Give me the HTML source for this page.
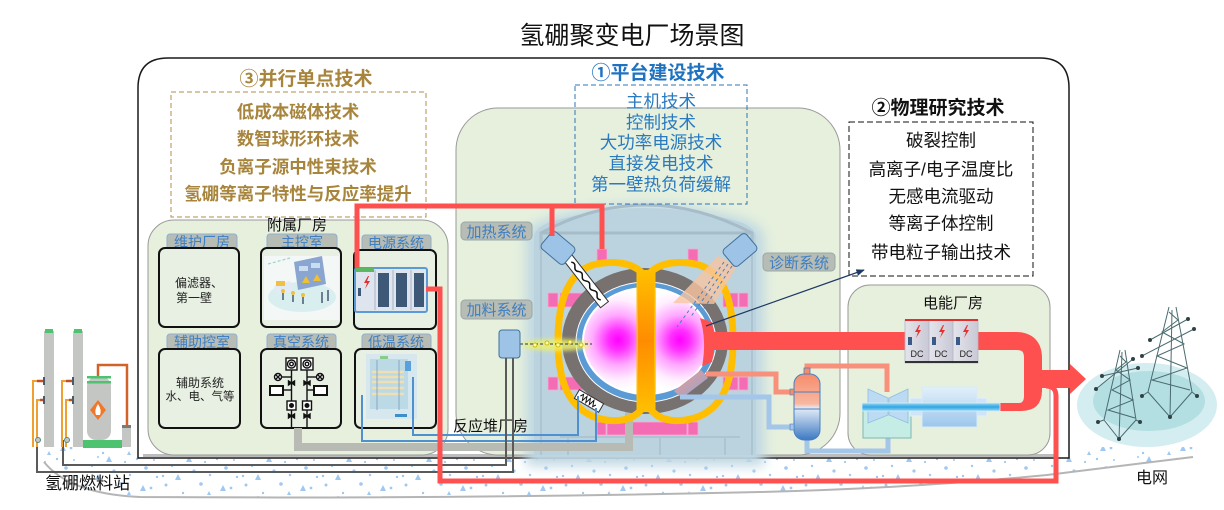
<!DOCTYPE html>
<html><head><meta charset="utf-8">
<style>
html,body{margin:0;padding:0;background:#fff;}
svg{display:block;}
text{font-family:"Liberation Sans","Noto Sans CJK SC",sans-serif;}
</style></head><body>
<svg width="1224" height="510" viewBox="0 0 1224 510" xmlns="http://www.w3.org/2000/svg">
<defs>
 <pattern id="dots" width="80" height="40" patternUnits="userSpaceOnUse">
  <rect width="80" height="40" fill="#fff"/>
  <g fill="#9fc9f2">
   <circle cx="6" cy="5" r="1.5"/><circle cx="23" cy="13" r="1.2"/><circle cx="41" cy="4" r="1.8"/><circle cx="57" cy="19" r="1.2"/><circle cx="71" cy="8" r="1.4"/><circle cx="12" cy="26" r="1.2"/><circle cx="34" cy="31" r="1.6"/><circle cx="50" cy="35" r="1.2"/><circle cx="66" cy="28" r="1.8"/><circle cx="77" cy="37" r="1.2"/><circle cx="3" cy="36" r="1.2"/><circle cx="45" cy="22" r="1.1"/><circle cx="18" cy="17" r="1"/><circle cx="74" cy="20" r="1"/>
   <polygon points="26,22 32,22 29,16"/><polygon points="60,11 66,11 63,5"/><polygon points="15,40 21,40 18,34"/><polygon points="47,15 51,15 49,11"/>
  </g>
 </pattern>
 <filter id="glow" x="-20%" y="-20%" width="140%" height="140%"><feGaussianBlur stdDeviation="6"/></filter>
 <filter id="soft" x="-30%" y="-100%" width="160%" height="300%"><feGaussianBlur stdDeviation="2"/></filter>
 <radialGradient id="plL" gradientUnits="userSpaceOnUse" cx="618" cy="340" r="50">
  <stop offset="0" stop-color="#ff00ff"/><stop offset="0.2" stop-color="#ff30ff"/><stop offset="0.5" stop-color="#ffa8ff"/><stop offset="0.8" stop-color="#ffeeff"/><stop offset="1" stop-color="#ffffff"/>
 </radialGradient>
 <radialGradient id="plR" gradientUnits="userSpaceOnUse" cx="680" cy="340" r="50">
  <stop offset="0" stop-color="#ff00ff"/><stop offset="0.2" stop-color="#ff30ff"/><stop offset="0.5" stop-color="#ffa8ff"/><stop offset="0.8" stop-color="#ffeeff"/><stop offset="1" stop-color="#ffffff"/>
 </radialGradient>
 <clipPath id="cL"><rect x="570" y="280" width="70" height="125"/></clipPath>
 <clipPath id="cR"><rect x="655" y="280" width="70" height="125"/></clipPath>
 <linearGradient id="cb" x1="0" y1="0" x2="0" y2="1"><stop offset="0" stop-color="#ffc000"/><stop offset="0.5" stop-color="#ff8c00"/><stop offset="1" stop-color="#ffc000"/></linearGradient>
 <linearGradient id="ves" x1="0" y1="0" x2="0" y2="1"><stop offset="0" stop-color="#f68c6c"/><stop offset="0.45" stop-color="#f9b7a0"/><stop offset="0.52" stop-color="#e3ecf8"/><stop offset="1" stop-color="#3c78c2"/></linearGradient>
 <linearGradient id="port" x1="0" y1="0" x2="1" y2="1"><stop offset="0" stop-color="#f59a8c"/><stop offset="1" stop-color="#8aa6d8"/></linearGradient>
 <linearGradient id="shaft" x1="0" y1="0" x2="0" y2="1"><stop offset="0" stop-color="#9ad6f4"/><stop offset="0.5" stop-color="#2ea6e2"/><stop offset="1" stop-color="#9ad6f4"/></linearGradient>
 <linearGradient id="gen" x1="0" y1="0" x2="0" y2="1"><stop offset="0" stop-color="#e3f0fa"/><stop offset="1" stop-color="#9cc6ec"/></linearGradient>
 <linearGradient id="dc" x1="0" y1="0" x2="1" y2="0"><stop offset="0" stop-color="#e4e4ec"/><stop offset="1" stop-color="#c9c9d6"/></linearGradient>
 <marker id="arr" viewBox="0 0 10 10" refX="9" refY="5" markerWidth="7" markerHeight="7" orient="auto"><path d="M0,1 L10,5 L0,9 Z" fill="#1f3864"/></marker>
</defs>

<!-- ground -->
<path d="M40,447 H1195 V455 L1193,457 Q1120,466 1047,475 Q900,489 760,492 Q450,499 140,497 Q70,494 44,462 Q40,455 40,447 Z" fill="url(#dots)"/>
<path d="M44,462 Q70,494 140,497 Q450,499 760,492 Q900,489 1047,475 Q1120,466 1193,457" fill="none" stroke="#b5b5b5" stroke-width="2"/>

<!-- title -->
<text x="632" y="44" font-size="25" text-anchor="middle" fill="#111">氢硼聚变电厂场景图</text>

<!-- outer frame -->
<path d="M138,458 V88 Q138,58 168,58 H1040 Q1069,58 1069,88 V458 Z" fill="#fff" stroke="#1a1a1a" stroke-width="1.5"/>
<rect x="143" y="454" width="912" height="3" fill="#bdbdbd"/>

<!-- buildings -->
<rect x="148" y="220" width="300" height="235" rx="26" fill="#e6f0dd" stroke="#9a9a9a" stroke-width="1"/>
<rect x="456" y="108" width="384" height="347" rx="42" fill="#e6f0dd" stroke="#9a9a9a" stroke-width="1"/>
<rect x="848" y="285" width="202" height="170" rx="22" fill="#e6f0dd" stroke="#9a9a9a" stroke-width="1"/>

<!-- ③ -->
<text x="306" y="85" font-size="19" font-weight="bold" text-anchor="middle" fill="#a8853c">③并行单点技术</text>
<rect x="171" y="92" width="255" height="125" fill="none" stroke="#b08d4a" stroke-width="1" stroke-dasharray="5,3"/>
<g font-size="17.5" font-weight="bold" text-anchor="middle" fill="#a8853c">
 <text x="298" y="118">低成本磁体技术</text>
 <text x="298" y="145">数智球形环技术</text>
 <text x="298" y="173">负离子源中性束技术</text>
 <text x="298" y="200">氢硼等离子特性与反应率提升</text>
</g>

<!-- ② -->
<text x="938" y="114" font-size="19" font-weight="bold" text-anchor="middle" fill="#111">②物理研究技术</text>
<rect x="849" y="122" width="184" height="154" fill="none" stroke="#111" stroke-width="1" stroke-dasharray="6,3"/>
<g font-size="17.5" text-anchor="middle" fill="#111">
 <text x="941" y="146.5">破裂控制</text>
 <text x="941" y="175.5">高离子/电子温度比</text>
 <text x="941" y="202.5">无感电流驱动</text>
 <text x="941" y="229.5">等离子体控制</text>
 <text x="941" y="258.5">带电粒子输出技术</text>
</g>

<!-- annex label -->
<text x="297" y="230" font-size="15" text-anchor="middle" fill="#111">附属厂房</text>

<!-- annex tabs + boxes -->
<g font-size="14" text-anchor="middle" fill="#3f7fc2">
 <rect x="167" y="234" width="70" height="16" rx="3" fill="#b7bcb4" stroke="#8fb0d0"/><text x="202" y="247">维护厂房</text>
 <rect x="267" y="234" width="70" height="16" rx="3" fill="#b7bcb4" stroke="#8fb0d0"/><text x="302" y="247">主控室</text>
 <rect x="362" y="235" width="69" height="16" rx="3" fill="#b7bcb4" stroke="#8fb0d0"/><text x="396" y="248">电源系统</text>
 <rect x="167" y="334" width="70" height="16" rx="3" fill="#b7bcb4" stroke="#8fb0d0"/><text x="202" y="347">辅助控室</text>
 <rect x="267" y="334" width="69" height="16" rx="3" fill="#b7bcb4" stroke="#8fb0d0"/><text x="301" y="347">真空系统</text>
 <rect x="362" y="334" width="69" height="16" rx="3" fill="#b7bcb4" stroke="#8fb0d0"/><text x="396" y="347">低温系统</text>
</g>
<g fill="#e8f0e3" stroke="#111" stroke-width="2">
 <rect x="159" y="248" width="80" height="79" rx="6"/>
 <rect x="261" y="248" width="80" height="79" rx="6"/>
 <rect x="354" y="250" width="82" height="79" rx="6"/>
 <rect x="159" y="349" width="81" height="79" rx="6"/>
 <rect x="261" y="349" width="80" height="79" rx="6"/>
 <rect x="355" y="349" width="81" height="79" rx="6"/>
</g>
<g font-size="12" fill="#222">
 <text x="175" y="287">偏滤器、</text>
 <text x="176" y="302">第一壁</text>
 <text x="200" y="387" text-anchor="middle">辅助系统</text>
 <text x="200" y="400" font-size="11.5" text-anchor="middle">水、电、气等</text>
</g>

<!-- main control illustration -->
<rect x="264" y="256" width="75" height="64" fill="#f3f7f6"/>
<ellipse cx="302" cy="297" rx="34" ry="15" fill="#d9efef"/>
<path d="M268,264 L290,258" stroke="#9fd4d0" stroke-dasharray="3,2" stroke-width="1.2"/>
<polygon points="294,262 322,256 326,284 298,290" fill="#8aa6d0"/>
<rect x="299" y="266" width="9" height="5" fill="#c8dcf2"/><rect x="311" y="263" width="9" height="5" fill="#c8dcf2"/>
<polygon points="302,283 306,276 310,283" fill="#f0c030"/><polygon points="313,281 317,274 321,281" fill="#f0c030"/>
<polygon points="274,286 290,281 293,291 277,295" fill="#e2eaf6"/>
<rect x="276" y="281" width="9" height="5" fill="#f0c040"/>
<g stroke="#3c4e6a" stroke-width="1.4"><line x1="283" y1="293" x2="283" y2="300"/><line x1="293" y1="295" x2="293" y2="302"/><line x1="303" y1="297" x2="303" y2="304"/><line x1="322" y1="292" x2="322" y2="303"/><line x1="328" y1="290" x2="328" y2="301"/></g>
<g fill="#f0c040"><circle cx="283" cy="291" r="2"/><circle cx="293" cy="293" r="2"/><circle cx="303" cy="295" r="2"/></g>

<!-- power cabinet -->
<rect x="355" y="268" width="72" height="44" rx="2" fill="#dfe5ee" stroke="#5b9bd5" stroke-width="2"/>
<rect x="356" y="268" width="18" height="4" fill="#5cb860"/>
<g fill="#3e5878"><rect x="378" y="273" width="11" height="34"/><rect x="396" y="273" width="11" height="34"/><rect x="414" y="273" width="10" height="34"/></g>
<g stroke="#a8b4c6" stroke-width="1"><line x1="375" y1="270" x2="375" y2="310"/><line x1="393" y1="270" x2="393" y2="310"/><line x1="411" y1="270" x2="411" y2="310"/></g>
<path d="M368,276 L364,283 L367,283 L365,289 L370,281 L367,281 L369,276 Z" fill="#e03030"/>
<rect x="358" y="288" width="3" height="8" fill="#3e5878"/>

<!-- vacuum schematic -->
<g stroke="#111" stroke-width="1.4" fill="none">
 <line x1="291.5" y1="370" x2="291.5" y2="428"/><line x1="307" y1="370" x2="307" y2="428"/>
 <rect x="286" y="358" width="11" height="12" fill="#fff"/><circle cx="291.5" cy="364" r="4"/><circle cx="291.5" cy="364" r="1.8"/>
 <rect x="301" y="358" width="12" height="12" fill="#fff"/><circle cx="307" cy="364" r="4"/><circle cx="307" cy="364" r="1.8"/>
 <line x1="281.5" y1="377" x2="291.5" y2="377"/><line x1="307" y1="377" x2="316.5" y2="377"/>
 <circle cx="278" cy="377" r="3.5" fill="#fff"/><path d="M275.5,374.5 L280.5,379.5 M280.5,374.5 L275.5,379.5"/>
 <circle cx="320" cy="377" r="3.5" fill="#fff"/><path d="M317.5,374.5 L322.5,379.5 M322.5,374.5 L317.5,379.5"/>
 <line x1="283" y1="390" x2="291.5" y2="390"/><line x1="307" y1="390" x2="314" y2="390"/>
 <rect x="270" y="386" width="13" height="9" fill="#fff" stroke-width="2"/><rect x="314" y="386" width="13" height="9" fill="#fff" stroke-width="2"/>
 <path d="M288.5,381 L294.5,385 L294.5,381 L288.5,385 Z M304,381 L310,385 L310,381 L304,385 Z M288.5,414 L294.5,418 L294.5,414 L288.5,418 Z M304,414 L310,418 L310,414 L304,418 Z" fill="#111"/>
 <rect x="287" y="401" width="9" height="9" fill="#fff"/><rect x="302.5" y="401" width="9" height="9" fill="#fff"/>
</g>
<circle cx="291.5" cy="405.5" r="2.5" fill="#111"/><circle cx="307" cy="405.5" r="2.5" fill="#111"/>

<!-- cryo -->
<rect x="366" y="354" width="51" height="65" fill="#d6e8ee"/>
<rect x="370" y="359" width="38" height="50" fill="#bcd9e6"/>
<g stroke="#f1dfb0" stroke-width="2.5"><line x1="372" y1="372" x2="404" y2="372"/><line x1="372" y1="377" x2="404" y2="377"/><line x1="372" y1="382" x2="404" y2="382"/><line x1="372" y1="388" x2="404" y2="388"/><line x1="372" y1="394" x2="404" y2="394"/></g>
<g stroke="#8aa8c0" stroke-width="1"><line x1="377" y1="360" x2="377" y2="410"/><line x1="399" y1="360" x2="399" y2="410"/></g>
<rect x="405" y="361" width="6" height="10" fill="#5aa0dc"/><rect x="395" y="414" width="12" height="3" fill="#3e8ec8"/><rect x="380" y="356" width="8" height="3" fill="#8c8"/>

<!-- reactor hall glow -->
<path d="M526,466 V240 Q526,226 545,220 Q645,188 745,220 Q764,226 764,240 V466 Z" fill="#bfd8e3" filter="url(#glow)"/>
<path d="M534,455 V238 Q534,228 550,222 Q645,194 740,222 Q756,228 756,238 V455 Z" fill="#bad3de"/>
<path d="M541,250 V233 Q645,177 752,233 V250" stroke="#a6bcc8" stroke-width="3" fill="none"/>
<line x1="541" y1="233" x2="752" y2="233" stroke="#a6bcc8" stroke-width="3"/>
<g stroke="#abc2cd" stroke-width="2" fill="none" opacity="0.8">
 <line x1="541" y1="233" x2="541" y2="455"/><line x1="752" y1="233" x2="752" y2="455"/>
 <line x1="560" y1="437" x2="740" y2="437"/><line x1="568" y1="437" x2="568" y2="455"/><line x1="660" y1="437" x2="660" y2="455"/><line x1="725" y1="437" x2="725" y2="455"/>
</g>

<!-- ① -->
<text x="658" y="79" font-size="19" font-weight="bold" text-anchor="middle" fill="#1f72c0">①平台建设技术</text>
<rect x="575" y="85" width="172" height="119" fill="none" stroke="#2e75b6" stroke-width="1" stroke-dasharray="5,3"/>
<g font-size="17.5" text-anchor="middle" fill="#2a7ac0">
 <text x="661" y="107.5">主机技术</text>
 <text x="661" y="128.5">控制技术</text>
 <text x="661" y="148.5">大功率电源技术</text>
 <text x="661" y="169.5">直接发电技术</text>
 <text x="661" y="190.5">第一壁热负荷缓解</text>
</g>

<!-- pink coils -->
<g fill="#f46cb4" stroke="#f9a8d2" stroke-width="0.8">
 <rect x="597" y="249" width="10" height="13"/><rect x="688" y="249" width="10" height="13"/>
 <rect x="548" y="293" width="10" height="14"/><rect x="560" y="293" width="24" height="14"/>
 <rect x="723" y="293" width="15" height="14"/><rect x="739" y="293" width="9" height="14"/>
 <rect x="548" y="377" width="10" height="13"/><rect x="560" y="377" width="24" height="13"/>
 <rect x="723" y="377" width="15" height="13"/><rect x="739" y="377" width="9" height="13"/>
 <rect x="597" y="422" width="9" height="13"/><rect x="607" y="422" width="80" height="13"/><rect x="688" y="422" width="10" height="13"/>
</g>

<!-- gray pipe -->
<path d="M298,428 V447 H629 V398" stroke="#b8bab4" stroke-width="8" fill="none"/>

<!-- tokamak -->
<ellipse cx="645" cy="341" rx="83" ry="73" fill="#777170"/>
<ellipse cx="646" cy="342" rx="70" ry="60" fill="#5b9bd5" stroke="#fff" stroke-width="1"/>
<ellipse cx="646" cy="341" rx="64" ry="54" fill="#fff"/>
<g clip-path="url(#cL)"><ellipse cx="646" cy="341" rx="62" ry="52" fill="url(#plL)"/></g>
<g clip-path="url(#cR)"><ellipse cx="646" cy="341" rx="62" ry="52" fill="url(#plR)"/></g>
<line x1="640" y1="290" x2="640" y2="392" stroke="#888" stroke-width="1.2"/>
<line x1="655" y1="290" x2="655" y2="392" stroke="#888" stroke-width="1.2"/>
<path d="M640,271 C626,259 600,262 590,266 C566,276 558,305 558,341 C558,380 568,405 592,416 C606,422 628,424 640,411 Z" fill="none" stroke="#ffbf00" stroke-width="7"/>
<path d="M652,271 C666,259 692,262 702,266 C726,276 733,305 733,341 C733,380 724,405 700,416 C686,422 664,424 652,411 Z" fill="none" stroke="#ffbf00" stroke-width="7"/>
<rect x="638" y="270" width="16" height="142" fill="url(#cb)"/>

<!-- red divertor + port -->
<path d="M700,318 L712,322 Q716,341 712,362 L702,366 Q707,341 700,318 Z" fill="#ff5050"/>
<path d="M701,370 L708,378 L682,398 L674,391 Z" fill="url(#port)"/>

<!-- lower-left zig -->
<g transform="translate(589,401) rotate(30)"><rect x="-14" y="-5" width="28" height="10" fill="#fff" stroke="#333"/><path d="M-10,0 l2,-3 l2,6 l2,-6 l2,6 l2,-6 l2,6 l2,-6 l2,6 l2,-3" stroke="#111" fill="none"/></g>

<!-- heating antenna -->
<g transform="translate(586,281) rotate(52)"><rect x="-30" y="-5" width="60" height="10" fill="#fff" stroke="#333" stroke-width="1"/><path d="M-24,0 q3,-3 6,0 t6,0 t6,0 t6,0 t6,0 t6,0 t6,0 t6,0" stroke="#111" fill="none" stroke-width="1.5"/></g>
<g transform="rotate(40 558 248)"><rect x="543" y="237" width="30" height="22" rx="4" fill="#9dc3e6" stroke="#41719c" stroke-width="1"/></g>

<!-- diagnostic -->
<polygon points="718,256 737,266 714,304 673,303" fill="#f7c4a0" opacity="0.8"/>
<g stroke="#4a7fc0" stroke-width="1" stroke-dasharray="3,3"><line x1="724" y1="262" x2="677" y2="327"/><line x1="728" y1="264" x2="690" y2="318"/><line x1="732" y1="266" x2="703" y2="310"/></g>
<g transform="rotate(-40 740 250)"><rect x="725" y="239" width="30" height="22" rx="4" fill="#9dc3e6" stroke="#41719c" stroke-width="1"/></g>

<!-- fueling -->
<ellipse cx="556" cy="345" rx="34" ry="6" fill="#eef06a" opacity="0.85" filter="url(#soft)"/>
<line x1="520" y1="344" x2="592" y2="344" stroke="#1f3864" stroke-dasharray="3,2" stroke-width="1"/>
<g fill="#fffaa0" stroke="#c0b000" stroke-width="0.8"><circle cx="535" cy="345" r="2"/><circle cx="547" cy="343" r="2"/><circle cx="558" cy="345" r="2"/><circle cx="570" cy="342" r="2"/><circle cx="581" cy="345" r="2"/></g>
<rect x="499" y="330" width="21" height="28" rx="3" fill="#9dc3e6" stroke="#41719c"/>

<!-- tab labels reactor -->
<g font-size="15" text-anchor="middle" fill="#3f7fc2">
 <rect x="461" y="222" width="71" height="18" rx="4" fill="#b7bcb4" stroke="#98a8a8"/><text x="496.5" y="237">加热系统</text>
 <rect x="461" y="300" width="71" height="19" rx="4" fill="#b7bcb4" stroke="#98a8a8"/><text x="496.5" y="315">加料系统</text>
 <rect x="763" y="253" width="72" height="18" rx="4" fill="#b7bcb4" stroke="#98a8a8"/><text x="799" y="268">诊断系统</text>
</g>
<text x="453" y="431" font-size="15" fill="#111">反应堆厂房</text>
<text x="953" y="308" font-size="15" text-anchor="middle" fill="#111">电能厂房</text>

<!-- blue thin lines -->
<g stroke="#4f90d0" stroke-width="2" fill="none">
 <path d="M413,377 V435 H578 V396"/>
 <path d="M362,395 V441 H596 V408"/>
</g>

<!-- dark gray fuel lines -->
<g stroke="#5a5a5a" stroke-width="2" fill="none">
 <path d="M506,358 V465 H63 V440"/>
 <path d="M513,358 V472 H37 V440"/>
</g>

<!-- salmon / blue pipes -->
<g stroke="#f8907c" stroke-width="5" fill="none">
 <path d="M706,374 H776 V392 H794"/>
 <path d="M807,372 V366 H887 V392"/>
</g>
<g stroke="#a3c6e9" stroke-width="5" fill="none">
 <path d="M680,397 H769 V427 H794"/>
 <path d="M807,440 V451 H888 V436"/>
</g>

<!-- vessel -->
<rect x="804" y="368" width="6" height="7" fill="#f68c6c" stroke="#4a7fbf" stroke-width="0.8"/>
<rect x="794" y="374" width="26" height="66" rx="10" fill="url(#ves)" stroke="#4a7fbf" stroke-width="1"/>
<line x1="794" y1="392" x2="820" y2="392" stroke="#4a7fbf" stroke-width="1"/>
<line x1="794" y1="409" x2="820" y2="409" stroke="#4a7fbf" stroke-width="1"/>
<rect x="790" y="389" width="4" height="6" fill="#f68c6c" stroke="#4a7fbf" stroke-width="0.6"/>
<rect x="790" y="424" width="4" height="6" fill="#a3c6e9" stroke="#4a7fbf" stroke-width="0.6"/>

<!-- red lines -->
<g stroke="#ff5050" stroke-width="5" fill="none">
 <path d="M357,268 V206 H602 V249"/>
 <path d="M552,206 V236"/>
 <path d="M426,289 H440 V481 H1056 V396 Q1056,386 1046,386"/>
</g>
<path d="M710,341 H1016 Q1033,341 1033,358 V392" stroke="#ff5050" stroke-width="18" fill="none"/>
<path d="M1024,390 H1042 Q1042,411 1021,411 H1000 V403 H1019 Q1024,403 1024,396 Z" fill="#ff5050"/>
<path d="M1042,370 H1070 V364 L1086,379 L1070,394 V388 H1042 Z" fill="#ff5050"/>

<!-- DC cabinets -->
<g>
 <rect x="905" y="320" width="24" height="43" fill="url(#dc)" stroke="#b5b5c5" stroke-width="0.8"/>
 <rect x="929" y="320" width="24" height="43" fill="url(#dc)" stroke="#b5b5c5" stroke-width="0.8"/>
 <rect x="953" y="320" width="25" height="43" fill="url(#dc)" stroke="#b5b5c5" stroke-width="0.8"/>
 <rect x="905" y="319" width="73" height="2" fill="#e03030"/>
 <rect x="905" y="361" width="73" height="2" fill="#333"/>
 <rect x="908" y="337" width="4" height="8" fill="#3a5a8a"/><rect x="932" y="337" width="4" height="8" fill="#3a5a8a"/><rect x="956" y="337" width="4" height="8" fill="#3a5a8a"/>
 <g fill="#e83030">
  <path d="M919,325 L915,332 L918,332 L916,338 L921,330 L918,330 L920,325 Z"/>
  <path d="M943,325 L939,332 L942,332 L940,338 L945,330 L942,330 L944,325 Z"/>
  <path d="M967,325 L963,332 L966,332 L964,338 L969,330 L966,330 L968,325 Z"/>
 </g>
 <g font-size="9" fill="#222" text-anchor="middle"><text x="917" y="357">DC</text><text x="941" y="357">DC</text><text x="966" y="357">DC</text></g>
</g>

<!-- turbine & generator -->
<rect x="863" y="408" width="48" height="30" fill="#c6ece6" stroke="#7fb8b0"/>
<polygon points="868,389 888,398 888,415 868,423" fill="#bcdaf2" stroke="#8fbfe2" stroke-width="0.8"/>
<polygon points="889,398 908,389 908,423 889,415" fill="#bcdaf2" stroke="#8fbfe2" stroke-width="0.8"/>
<rect x="910" y="398" width="77" height="18" fill="#cfe4f6" stroke="#e3f0fa"/>
<rect x="922" y="387" width="55" height="40" fill="url(#gen)" stroke="#d7ebf8"/>
<rect x="862" y="403" width="138" height="8" fill="url(#shaft)" stroke="#d5eef9" stroke-width="0.8"/>

<!-- arrow to ② -->
<line x1="706" y1="326" x2="864" y2="270" stroke="#1f3864" stroke-width="1.2" marker-end="url(#arr)"/>

<!-- fuel station -->
<rect x="44" y="331" width="10" height="116" fill="#c4c6c4"/>
<rect x="45" y="329" width="8" height="4" fill="#4dc36f"/>
<rect x="73" y="331" width="10" height="116" fill="#c4c6c4"/>
<rect x="74" y="329" width="8" height="4" fill="#4dc36f"/>
<g stroke="#f0a030" stroke-width="2" fill="none">
 <path d="M33,447 V381 H44"/><path d="M37,447 V400 H44"/>
 <path d="M62,447 V381 H73"/><path d="M66,447 V400 H73"/>
</g>
<g stroke="#c0502a" stroke-width="2.5"><line x1="37" y1="381" x2="44" y2="381"/><line x1="40" y1="400" x2="44" y2="400"/><line x1="66" y1="381" x2="73" y2="381"/><line x1="69" y1="400" x2="73" y2="400"/></g>
<g fill="#4a5a6a"><rect x="43" y="377" width="2" height="8"/><rect x="43" y="396" width="2" height="8"/><rect x="72" y="377" width="2" height="8"/><rect x="72" y="396" width="2" height="8"/></g>
<circle cx="38" cy="440" r="2.5" fill="#c4c6c4" stroke="#5a8a7a"/><circle cx="67" cy="440" r="2.5" fill="#c4c6c4" stroke="#5a8a7a"/>
<path d="M98,377 V365 H127 V426" stroke="#d2622a" stroke-width="2.5" fill="none"/>
<rect x="87" y="377" width="24" height="63" rx="9" fill="#c4c6c4"/>
<rect x="87" y="376" width="24" height="2.5" fill="#4dc36f"/><rect x="87" y="381" width="24" height="2.5" fill="#4dc36f"/>
<polygon points="98,400 106,410 98,420 90,410" fill="#f0782a"/>
<path d="M98,404 Q102,410 100,415 L96,415 Q94,410 98,404 Z" fill="#fff"/>
<rect x="83" y="440" width="39" height="8" fill="#4dc36f"/>
<rect x="122" y="427" width="9" height="20" fill="#c4c6c4"/><rect x="122" y="425" width="9" height="3" fill="#7a7a7a"/>
<text x="45" y="489" font-size="17" fill="#111">氢硼燃料站</text>

<!-- grid -->
<ellipse cx="1147" cy="405" rx="70" ry="42" fill="#d4edf0"/>
<ellipse cx="1149" cy="401" rx="56" ry="30" fill="#b3dfe3"/>
<g stroke="#4a6b6f" stroke-width="1" fill="none">
 <path d="M1120,350 L1104,420 M1125,350 L1136,420 M1122,352 L1119,439"/>
 <path d="M1120,356 L1126,362 L1116,370 L1130,380 L1112,390 L1133,400 L1108,410 L1135,418"/>
 <path d="M1102,376 L1138,368 M1096,389 L1133,359 M1104,420 L1098,422 M1136,420 L1140,422 M1104,420 L1119,439 L1136,420"/>
 <path d="M1169,307 L1148,392 M1176,307 L1192,392 M1172,310 L1170,417"/>
 <path d="M1169,312 L1178,320 L1162,332 L1184,344 L1157,356 L1187,368 L1152,380 L1190,390"/>
 <path d="M1150,340 L1188,319 M1142,356 L1194,329 M1148,392 L1142,396 M1192,392 L1197,396 M1148,392 L1170,417 L1192,392"/>
</g>
<g fill="#2f4345">
 <circle cx="1133" cy="359" r="2"/><circle cx="1138" cy="368" r="2"/><circle cx="1102" cy="376" r="2"/><circle cx="1096" cy="389" r="2"/>
 <circle cx="1098" cy="422" r="2"/><circle cx="1140" cy="422" r="2"/><circle cx="1119" cy="439" r="2"/>
 <circle cx="1188" cy="319" r="2"/><circle cx="1194" cy="329" r="2"/><circle cx="1150" cy="340" r="2"/><circle cx="1142" cy="356" r="2"/>
 <circle cx="1142" cy="396" r="2"/><circle cx="1197" cy="396" r="2"/><circle cx="1170" cy="417" r="2"/>
</g>
<text x="1136" y="483" font-size="16" fill="#111">电网</text>
</svg>
</body></html>
